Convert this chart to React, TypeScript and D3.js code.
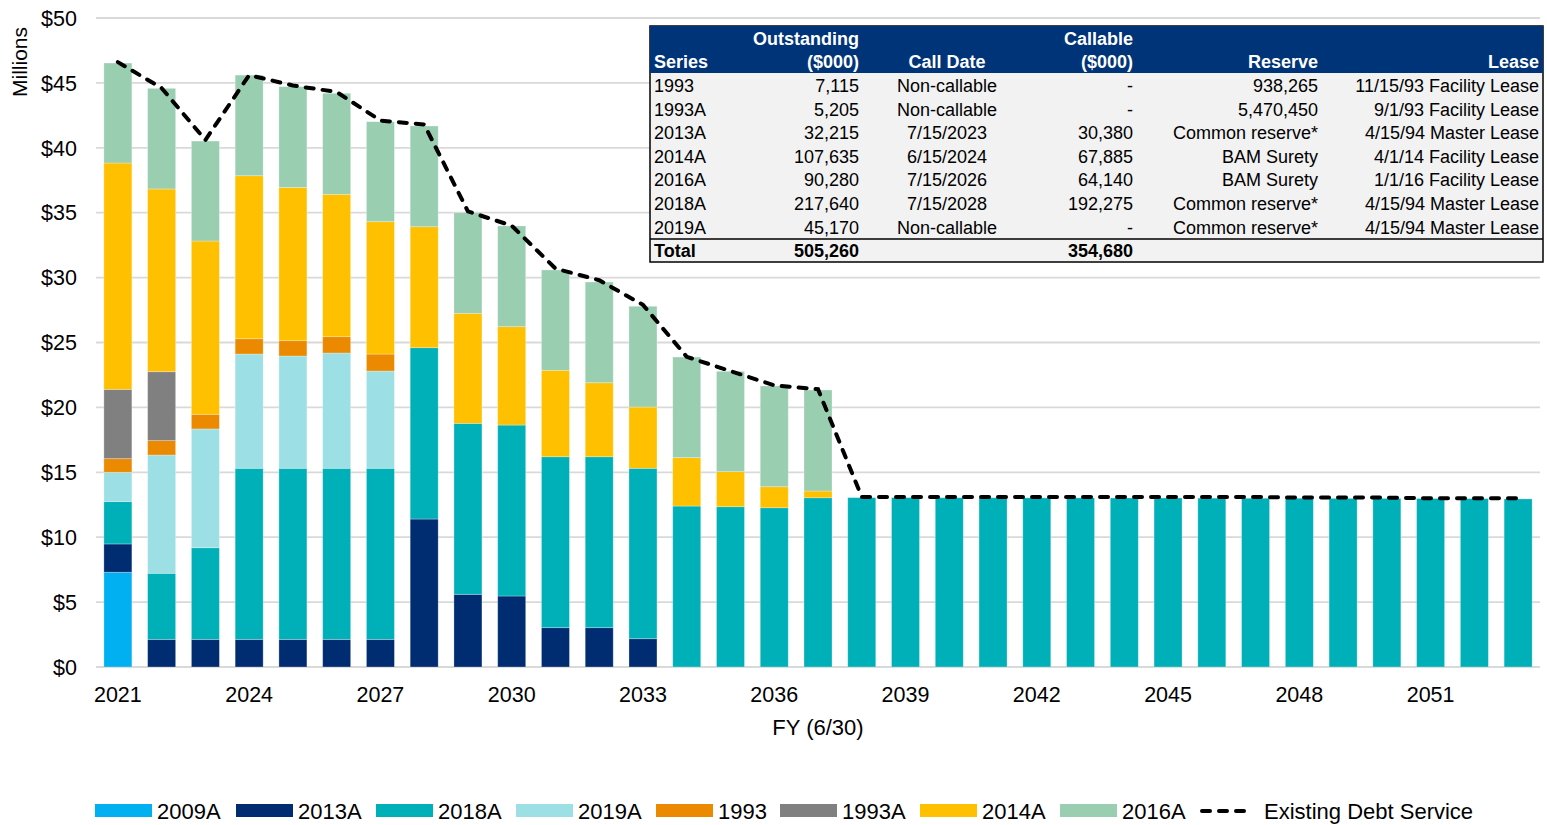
import React from 'react';
import * as d3 from 'd3';

const years = d3.range(2021, 2054);

const s2009A = [7.3, 0, 0, 0, 0, 0, 0, 0, 0, 0, 0, 0, 0, 0, 0, 0, 0, 0, 0, 0, 0, 0, 0, 0, 0, 0, 0, 0, 0, 0, 0, 0, 0];
const s2013A = [2.18, 2.13, 2.13, 2.13, 2.13, 2.13, 2.13, 11.4, 5.6, 5.47, 3.03, 3.03, 2.18, 0, 0, 0, 0, 0, 0, 0, 0, 0, 0, 0, 0, 0, 0, 0, 0, 0, 0, 0, 0];
const s2018A = [3.26, 5.09, 7.06, 13.18, 13.18, 13.18, 13.18, 13.2, 13.17, 13.17, 13.17, 13.17, 13.13, 12.4, 12.35, 12.27, 13.04, 13.05, 13.05, 13.04, 13.04, 13.03, 13.03, 13.02, 13.02, 13.01, 13.0, 13.0, 12.99, 12.99, 12.98, 12.97, 12.95];
const s2019A = [2.26, 9.11, 9.15, 8.8, 8.65, 8.88, 7.49, 0, 0, 0, 0, 0, 0, 0, 0, 0, 0, 0, 0, 0, 0, 0, 0, 0, 0, 0, 0, 0, 0, 0, 0, 0, 0];
const s1993 = [1.05, 1.11, 1.13, 1.18, 1.18, 1.26, 1.31, 0, 0, 0, 0, 0, 0, 0, 0, 0, 0, 0, 0, 0, 0, 0, 0, 0, 0, 0, 0, 0, 0, 0, 0, 0, 0];
const s1993A = [5.34, 5.31, 0, 0, 0, 0, 0, 0, 0, 0, 0, 0, 0, 0, 0, 0, 0, 0, 0, 0, 0, 0, 0, 0, 0, 0, 0, 0, 0, 0, 0, 0, 0];
const s2014A = [17.44, 14.08, 13.35, 12.56, 11.81, 10.97, 10.2, 9.32, 8.48, 7.58, 6.66, 5.7, 4.72, 3.73, 2.7, 1.62, 0.52, 0, 0, 0, 0, 0, 0, 0, 0, 0, 0, 0, 0, 0, 0, 0, 0];
const s2016A = [7.7, 7.75, 7.7, 7.75, 7.76, 7.78, 7.7, 7.76, 7.75, 7.76, 7.73, 7.76, 7.76, 7.75, 7.73, 7.76, 7.78, 0, 0, 0, 0, 0, 0, 0, 0, 0, 0, 0, 0, 0, 0, 0, 0];
const existingDebt = [46.6, 44.6, 40.6, 45.6, 44.8, 44.3, 42.1, 41.8, 35.1, 34.0, 30.7, 29.8, 27.9, 23.9, 22.8, 21.7, 21.4, 13.1, 13.1, 13.1, 13.1, 13.1, 13.1, 13.1, 13.1, 13.1, 13.1, 13.05, 13.05, 13.05, 13.0, 13.0, 13.0];

const seriesNames = ['2009A', '2013A', '2018A', '2019A', '1993', '1993A', '2014A', '2016A'];
const seriesValues = [s2009A, s2013A, s2018A, s2019A, s1993, s1993A, s2014A, s2016A];
const seriesColors = ['#00B0F0', '#002D72', '#00B0B9', '#9CDFE4', '#EB8A00', '#808080', '#FFC000', '#99CEB0'];

const yTicks = [0, 5, 10, 15, 20, 25, 30, 35, 40, 45, 50];
const xTickYears = [2021, 2024, 2027, 2030, 2033, 2036, 2039, 2042, 2045, 2048, 2051];

const tableHead1 = ['', 'Outstanding', '', 'Callable', '', ''];
const tableHead2 = ['Series', '($000)', 'Call Date', '($000)', 'Reserve', 'Lease'];
const tableSeries = ['1993', '1993A', '2013A', '2014A', '2016A', '2018A', '2019A'];
const tableOutstanding = ['7,115', '5,205', '32,215', '107,635', '90,280', '217,640', '45,170'];
const tableCallDate = ['Non-callable', 'Non-callable', '7/15/2023', '6/15/2024', '7/15/2026', '7/15/2028', 'Non-callable'];
const tableCallable = ['-', '-', '30,380', '67,885', '64,140', '192,275', '-'];
const tableReserve = ['938,265', '5,470,450', 'Common reserve*', 'BAM Surety', 'BAM Surety', 'Common reserve*', 'Common reserve*'];
const tableLease = ['11/15/93 Facility Lease', '9/1/93 Facility Lease', '4/15/94 Master Lease', '4/1/14 Facility Lease', '1/1/16 Facility Lease', '4/15/94 Master Lease', '4/15/94 Master Lease'];
const tableTotal = ['Total', '505,260', '', '354,680', '', ''];

const W = 1547;
const H = 825;
const FONT = '"Liberation Sans", Arial, sans-serif';

export default function App() {
  const x = d3.scaleBand<number>().domain(years).range([96, 1540]).paddingInner(0.36).paddingOuter(0.18);
  const y = d3.scaleLinear().domain([0, 50]).range([667, 18]);

  const rows = years.map((yr, i) => {
    const r: Record<string, number> = { year: yr };
    seriesNames.forEach((n, k) => (r[n] = seriesValues[k][i]));
    return r;
  });
  const stacked = d3.stack<Record<string, number>>().keys(seriesNames)(rows);

  const line = d3
    .line<number>()
    .x((_, i) => (x(years[i]) as number) + x.bandwidth() / 2)
    .y((d) => y(d));

  // table columns: [x, anchor]
  const cols: [number, 'start' | 'middle' | 'end'][] = [
    [654, 'start'],
    [859, 'end'],
    [947, 'middle'],
    [1133, 'end'],
    [1318, 'end'],
    [1539, 'end'],
  ];
  const tX = 650, tY = 26, tW = 893, tH = 236;
  const rowH = 23.6;
  const tFont = 18;
  const bodyRows = tableSeries.map((s, i) => [s, tableOutstanding[i], tableCallDate[i], tableCallable[i], tableReserve[i], tableLease[i]]);

  const legendX = [95, 236, 376, 516, 656, 780, 920, 1060];

  return (
    <svg width={W} height={H} style={{ position: 'absolute', left: 0, top: 0, background: '#fff' }} fontFamily={FONT}>
      {/* grid */}
      {yTicks.map((t) => (
        <g key={t}>
          <line x1={96} x2={1540} y1={y(t)} y2={y(t)} stroke="#D9D9D9" strokeWidth={1.8} />
          <text x={77} y={y(t)} dy="0.36em" textAnchor="end" fontSize={21.5} fill="#000">
            ${t}
          </text>
        </g>
      ))}
      <text transform="translate(27,62) rotate(-90)" textAnchor="middle" fontSize={21} fill="#000">
        Millions
      </text>

      {/* bars */}
      {stacked.map((layer, k) => (
        <g key={layer.key} fill={seriesColors[k]}>
          {layer.map((d, i) =>
            d[1] - d[0] > 0 ? (
              <rect
                key={i}
                x={x(years[i])}
                y={y(d[1])}
                width={x.bandwidth()}
                height={y(d[0]) - y(d[1])}
                stroke="#ffffff"
                strokeOpacity={0.35}
                strokeWidth={0.8}
              />
            ) : null
          )}
        </g>
      ))}

      {/* x axis */}
      {xTickYears.map((yr) => (
        <text key={yr} x={(x(yr) as number) + x.bandwidth() / 2} y={702} textAnchor="middle" fontSize={21.5} fill="#000">
          {yr}
        </text>
      ))}
      <text x={818} y={735} textAnchor="middle" fontSize={22} fill="#000">
        FY (6/30)
      </text>

      {/* existing debt service */}
      <path d={line(existingDebt) as string} fill="none" stroke="#000" strokeWidth={4} strokeDasharray="8 9" strokeLinecap="round" />

      {/* table */}
      <rect x={tX} y={tY} width={tW} height={tH} fill="#F2F2F2" stroke="#000" strokeWidth={1.5} />
      <rect x={tX} y={tY} width={tW} height={47} fill="#003478" />
      {tableHead1.map((t, c) =>
        t ? (
          <text key={'h1' + c} x={cols[c][0]} y={45} textAnchor={cols[c][1]} fontSize={tFont} fontWeight="bold" fill="#fff">
            {t}
          </text>
        ) : null
      )}
      {tableHead2.map((t, c) => (
        <text key={'h2' + c} x={cols[c][0]} y={68} textAnchor={cols[c][1]} fontSize={tFont} fontWeight="bold" fill="#fff">
          {t}
        </text>
      ))}
      {bodyRows.map((r, i) =>
        r.map((t, c) => (
          <text key={i + '-' + c} x={cols[c][0]} y={92 + i * rowH} textAnchor={cols[c][1]} fontSize={tFont} fill="#000">
            {t}
          </text>
        ))
      )}
      <line x1={tX} x2={tX + tW} y1={239} y2={239} stroke="#000" strokeWidth={1.5} />
      {tableTotal.map((t, c) =>
        t ? (
          <text key={'tt' + c} x={cols[c][0]} y={257} textAnchor={cols[c][1]} fontSize={tFont} fontWeight="bold" fill="#000">
            {t}
          </text>
        ) : null
      )}

      {/* legend */}
      {seriesNames.map((n, k) => (
        <g key={n}>
          <rect x={legendX[k]} y={804} width={57} height={13} fill={seriesColors[k]} />
          <text x={legendX[k] + 62} y={811} dy="0.36em" fontSize={22} fill="#000">
            {n}
          </text>
        </g>
      ))}
      <line x1={1202} x2={1253} y1={811} y2={811} stroke="#000" strokeWidth={4} strokeDasharray="8 9" strokeLinecap="round" />
      <text x={1264} y={811} dy="0.36em" fontSize={22} fill="#000">
        Existing Debt Service
      </text>
    </svg>
  );
}
